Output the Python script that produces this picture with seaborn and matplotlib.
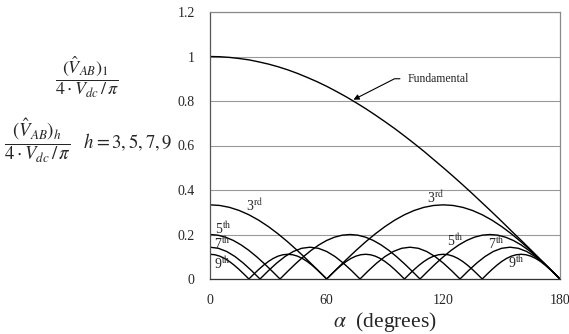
import matplotlib
matplotlib.use("Agg")
import matplotlib.pyplot as plt
import seaborn as sns
import pandas as pd

# ---- data (normalised harmonic amplitude vs alpha) ----
alpha_1 = [0, 5, 10, 15, 20, 25, 30, 35, 40, 45, 50, 55, 60, 65, 70, 75, 80, 85, 90,
           95, 100, 105, 110, 115, 120, 125, 130, 135, 140, 145, 150, 155, 160, 165, 170, 175, 180]
fundamental = [1.000, 0.999, 0.996, 0.991, 0.985, 0.976, 0.966, 0.954, 0.940, 0.924, 0.906, 0.887,
               0.866, 0.843, 0.819, 0.793, 0.766, 0.737, 0.707, 0.676, 0.643, 0.609, 0.574, 0.537,
               0.500, 0.462, 0.423, 0.383, 0.342, 0.301, 0.259, 0.216, 0.174, 0.131, 0.087, 0.044, 0.000]

alpha_3 = alpha_1
third = [0.3333, 0.3305, 0.3220, 0.3080, 0.2887, 0.2645, 0.2357, 0.2029, 0.1667, 0.1276, 0.0863,
         0.0435, 0.0000, 0.0435, 0.0863, 0.1276, 0.1667, 0.2029, 0.2357, 0.2645, 0.2887, 0.3080,
         0.3220, 0.3305, 0.3333, 0.3305, 0.3220, 0.3080, 0.2887, 0.2645, 0.2357, 0.2029, 0.1667,
         0.1276, 0.0863, 0.0435, 0.0000]

alpha_5 = [0, 4, 8, 12, 16, 20, 24, 28, 32, 36, 40, 44, 48, 52, 56, 60, 64, 68, 72, 76, 80, 84, 88,
           92, 96, 100, 104, 108, 112, 116, 120, 124, 128, 132, 136, 140, 144, 148, 152, 156, 160,
           164, 168, 172, 176, 180]
fifth = [0.2000, 0.1970, 0.1879, 0.1732, 0.1532, 0.1286, 0.1000, 0.0684, 0.0347, 0.0000,
         0.0347, 0.0684, 0.1000, 0.1286, 0.1532, 0.1732, 0.1879, 0.1970, 0.2000,
         0.1970, 0.1879, 0.1732, 0.1532, 0.1286, 0.1000, 0.0684, 0.0347, 0.0000,
         0.0347, 0.0684, 0.1000, 0.1286, 0.1532, 0.1732, 0.1879, 0.1970, 0.2000,
         0.1970, 0.1879, 0.1732, 0.1532, 0.1286, 0.1000, 0.0684, 0.0347, 0.0000]

alpha_7 = [0.00, 4.29, 8.57, 12.86, 17.14, 21.43, 25.71, 30.00, 34.29, 38.57, 42.86, 47.14, 51.43,
           55.71, 60.00, 64.29, 68.57, 72.86, 77.14, 81.43, 85.71, 90.00, 94.29, 98.57, 102.86,
           107.14, 111.43, 115.71, 120.00, 124.29, 128.57, 132.86, 137.14, 141.43, 145.71, 150.00,
           154.29, 158.57, 162.86, 167.14, 171.43, 175.71, 180.00]
seventh = [0.1429, 0.1380, 0.1237, 0.1010, 0.0714, 0.0370, 0.0000,
           0.0370, 0.0714, 0.1010, 0.1237, 0.1380, 0.1429,
           0.1380, 0.1237, 0.1010, 0.0714, 0.0370, 0.0000,
           0.0370, 0.0714, 0.1010, 0.1237, 0.1380, 0.1429,
           0.1380, 0.1237, 0.1010, 0.0714, 0.0370, 0.0000,
           0.0370, 0.0714, 0.1010, 0.1237, 0.1380, 0.1429,
           0.1380, 0.1237, 0.1010, 0.0714, 0.0370, 0.0000]

alpha_9 = [0, 2.5, 5, 7.5, 10, 12.5, 15, 17.5, 20, 22.5, 25, 27.5, 30, 32.5, 35, 37.5, 40, 42.5,
           45, 47.5, 50, 52.5, 55, 57.5, 60, 62.5, 65, 67.5, 70, 72.5, 75, 77.5, 80, 82.5, 85,
           87.5, 90, 92.5, 95, 97.5, 100, 102.5, 105, 107.5, 110, 112.5, 115, 117.5, 120, 122.5,
           125, 127.5, 130, 132.5, 135, 137.5, 140, 142.5, 145, 147.5, 150, 152.5, 155, 157.5,
           160, 162.5, 165, 167.5, 170, 172.5, 175, 177.5, 180]
ninth = [0.1111, 0.1090, 0.1027, 0.0924, 0.0786, 0.0617, 0.0425, 0.0217, 0.0000,
         0.0217, 0.0425, 0.0617, 0.0786, 0.0924, 0.1027, 0.1090, 0.1111,
         0.1090, 0.1027, 0.0924, 0.0786, 0.0617, 0.0425, 0.0217, 0.0000,
         0.0217, 0.0425, 0.0617, 0.0786, 0.0924, 0.1027, 0.1090, 0.1111,
         0.1090, 0.1027, 0.0924, 0.0786, 0.0617, 0.0425, 0.0217, 0.0000,
         0.0217, 0.0425, 0.0617, 0.0786, 0.0924, 0.1027, 0.1090, 0.1111,
         0.1090, 0.1027, 0.0924, 0.0786, 0.0617, 0.0425, 0.0217, 0.0000,
         0.0217, 0.0425, 0.0617, 0.0786, 0.0924, 0.1027, 0.1090, 0.1111,
         0.1090, 0.1027, 0.0924, 0.0786, 0.0617, 0.0425, 0.0217, 0.0000]

x_ticks = [0, 60, 120, 180]
y_ticks = [0, 0.2, 0.4, 0.6, 0.8, 1.0, 1.2]
y_tick_labels = ["0", "0.2", "0.4", "0.6", "0.8", "1", "1.2"]

# ---- style ----
sns.set_style("white")
plt.rcParams["font.family"] = ["Liberation Serif", "DejaVu Serif"]
plt.rcParams["mathtext.fontset"] = "stix"

frames = []
for name, xs, ys in [("1", alpha_1, fundamental), ("3", alpha_3, third), ("5", alpha_5, fifth),
                     ("7", alpha_7, seventh), ("9", alpha_9, ninth)]:
    frames.append(pd.DataFrame({"alpha": xs, "value": ys, "h": name}))
df = pd.concat(frames, ignore_index=True)

fig = plt.figure(figsize=(5.69, 3.34), dpi=100)
ax = fig.add_axes([210 / 569, 1 - 279 / 334, 350 / 569, 267 / 334])

sns.lineplot(data=df, x="alpha", y="value", hue="h", palette=["black"] * 5,
             estimator=None, sort=False, legend=False, linewidth=1.0, ax=ax)

ax.set_xlim(0, 180)
ax.set_ylim(0, 1.2)
ax.set_xticks(x_ticks)
ax.set_xticklabels([str(t) for t in x_ticks])
ax.set_yticks(y_ticks)
ax.set_yticklabels(y_tick_labels)
ax.tick_params(axis="both", length=0, labelsize=10)
ax.tick_params(axis="y", pad=11)
ax.tick_params(axis="x", pad=11)
ax.yaxis.grid(True, color="#999999", linewidth=0.8)
ax.xaxis.grid(False)
ax.set_axisbelow(True)
for side, col in [("left", "#555555"), ("bottom", "#333333"), ("right", "#8a8a8a"), ("top", "#8a8a8a")]:
    ax.spines[side].set_visible(True)
    ax.spines[side].set_color(col)
    ax.spines[side].set_linewidth(0.9)

ax.set_xlabel(r"$\alpha$  (degrees)", fontsize=15.5, labelpad=2)
ax.set_ylabel("")

# curve labels
lab_fs = 10
for txt, x, y in [("3", 18.5, 0.33), ("5", 2.8, 0.226), ("7", 2.0, 0.158), ("9", 2.0, 0.068)]:
    sup = "rd" if txt == "3" else "th"
    ax.text(x, y, txt + r"$^{\mathrm{" + sup + "}}$", fontsize=lab_fs, ha="left", va="center")
for txt, x, y in [("3", 111.5, 0.365), ("5", 122, 0.172), ("7", 143, 0.16), ("9", 153, 0.075)]:
    sup = "rd" if txt == "3" else "th"
    ax.text(x, y, txt + r"$^{\mathrm{" + sup + "}}$", fontsize=lab_fs, ha="left", va="center")

ax.annotate("Fundamental", xy=(73.8, 0.806), xytext=(101.5, 0.90), fontsize=8.5,
            ha="left", va="center",
            arrowprops=dict(arrowstyle="-|>", color="black", lw=0.8, mutation_scale=8,
                            shrinkA=3, shrinkB=0,
                            connectionstyle="angle,angleA=180,angleB=27,rad=0"))

# left-hand formulas
fig.text(87 / 569, 1 - 77 / 334,
         r"$\dfrac{(\hat{V}_{AB})_1}{4\cdot V_{dc}\,/\,\pi}$", fontsize=13, ha="center", va="center")
fig.text(4 / 569, 1 - 141 / 334,
         r"$\dfrac{(\hat{V}_{AB})_h}{4\cdot V_{dc}\,/\,\pi}\quad h=3,5,7,9$", fontsize=13.5,
         ha="left", va="center")

fig.savefig("out.png", dpi=100)
